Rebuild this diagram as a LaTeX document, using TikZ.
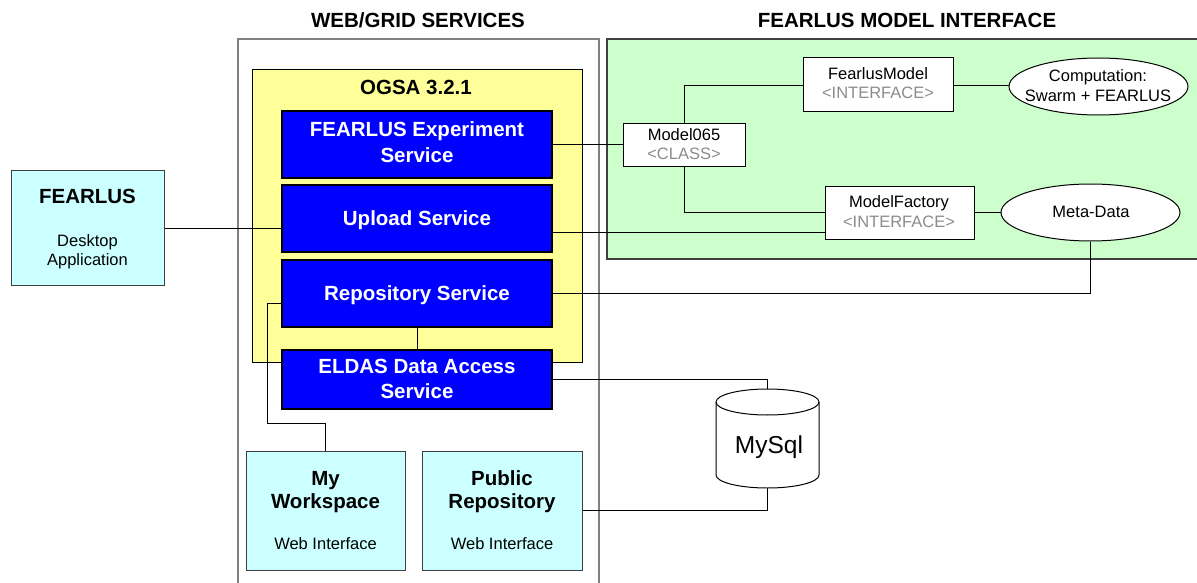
\documentclass[tikz,border=0pt]{standalone}
\usepackage{fontspec}
\setmainfont{Liberation Sans}
\usetikzlibrary{shapes.geometric}
\definecolor{svcblue}{HTML}{0000FF}
\definecolor{appcyan}{HTML}{CCFFFF}
\definecolor{ogsayellow}{HTML}{FFFF99}
\definecolor{modelgreen}{HTML}{CCFFCC}
\definecolor{framegray}{HTML}{808080}
\definecolor{boxgray}{HTML}{404040}
\definecolor{textgray}{HTML}{8C8C8C}
\begin{document}
\begin{tikzpicture}[x=1pt,y=-1pt,
  box/.style={draw, line width=1pt, inner sep=0pt, anchor=center},
  bluebox/.style={box, fill=svcblue, draw=black, line width=1.2pt, minimum width=270pt},
  cyanbox/.style={box, fill=appcyan, draw=boxgray},
  whitebox/.style={box, fill=white, draw=black},
  oval/.style={ellipse, draw=black, fill=white, line width=1pt, inner sep=0pt},
  big/.style={font=\fontsize{20.5}{24}\selectfont\bfseries},
  small/.style={font=\fontsize{16.5}{20}\selectfont},
  txt/.style={anchor=base, inner sep=0pt},
  wt/.style={txt, big, text=white},
  gt/.style={txt, small, text=textgray},
  conn/.style={draw=black, line width=0.9pt},
]
\useasboundingbox (0,0) rectangle (1197,583);

% frames
\node[draw=framegray, line width=1.6pt, inner sep=0pt, minimum width=361pt, minimum height=600pt] (webgrid) at (418.5,339) {};
\node[txt, big] (webgridT) at (418,28) {WEB/GRID SERVICES};
\node[fill=modelgreen, draw=boxgray, line width=1.2pt, inner sep=0pt, minimum width=603pt, minimum height=220pt] (modelif) at (908.5,149) {};
\node[txt, big] (modelifT) at (907,28) {FEARLUS MODEL INTERFACE};

% desktop application
\node[cyanbox, minimum width=153pt, minimum height=114pt] (fearlus) at (87.5,228) {};
\node[txt, big] (fearlusT) at (87.5,203) {FEARLUS};
\node[txt, small] (fearlusD) at (87.5,246) {Desktop};
\node[txt, small] (fearlusA) at (87.5,265) {Application};

% OGSA
\node[box, fill=ogsayellow, draw=black, line width=0.8pt, minimum width=330pt, minimum height=293pt] (ogsa) at (417,215.5) {};
\node[txt, big] (ogsaT) at (416,95) {OGSA 3.2.1};

\node[bluebox, minimum height=67pt] (experiment) at (417,144.5) {};
\node[wt] (experimentT1) at (417,137) {FEARLUS Experiment};
\node[wt] (experimentT2) at (417,163) {Service};
\node[bluebox, minimum height=67pt] (upload) at (417,218.5) {};
\node[wt] (uploadT) at (417,225) {Upload Service};
\node[bluebox, minimum height=67pt] (repository) at (417,293.5) {};
\node[wt] (repositoryT) at (417,300) {Repository Service};
\node[bluebox, minimum height=59pt] (eldas) at (417,379.5) {};
\node[wt] (eldasT1) at (417,373) {ELDAS Data Access};
\node[wt] (eldasT2) at (417,398) {Service};

% web interfaces
\node[cyanbox, minimum width=159pt, minimum height=119pt] (workspace) at (325.5,510.5) {};
\node[txt, big] (workspaceT1) at (325.5,485) {My};
\node[txt, big] (workspaceT2) at (325.5,508) {Workspace};
\node[txt, small] (workspaceT3) at (325.5,549) {Web Interface};
\node[cyanbox, minimum width=160pt, minimum height=119pt] (public) at (502,510.5) {};
\node[txt, big] (publicT1) at (502,485) {Public};
\node[txt, big] (publicT2) at (502,508) {Repository};
\node[txt, small] (publicT3) at (502,549) {Web Interface};

% MySql cylinder
\node[inner sep=0pt, minimum width=103pt, minimum height=99pt] (mysql) at (767.5,438.5) {};
\draw[line width=1pt, fill=white] (716,402) -- (716,475)
  arc[start angle=180, end angle=360, x radius=51.5pt, y radius=13pt] -- (819,402)
  arc[start angle=0, end angle=180, x radius=51.5pt, y radius=13pt] -- cycle;
\draw[line width=1pt] (716,402) arc[start angle=180, end angle=360, x radius=51.5pt, y radius=13pt];
\node[txt, font=\fontsize{24.5}{28}\selectfont] (mysqlT) at (769,453) {MySql};

% model interface
\node[whitebox, minimum width=122pt, minimum height=43pt] (model065) at (684,145.5) {};
\node[txt, small] (model065T1) at (684,141) {Model065};
\node[gt] (model065T2) at (684,160) {<CLASS>};
\node[whitebox, minimum width=150pt, minimum height=54pt] (fearlusmodel) at (878,85) {};
\node[txt, small] (fearlusmodelT1) at (878,80) {FearlusModel};
\node[gt] (fearlusmodelT2) at (878,99) {<INTERFACE>};
\node[whitebox, minimum width=149pt, minimum height=53pt] (factory) at (899.5,212.5) {};
\node[txt, small] (factoryT1) at (899,207) {ModelFactory};
\node[gt] (factoryT2) at (899,227) {<INTERFACE>};
\node[oval, minimum width=179pt, minimum height=57pt] (computation) at (1098.5,86.5) {};
\node[txt, small] (computationT1) at (1098,82) {Computation:};
\node[txt, small] (computationT2) at (1098,102) {Swarm + FEARLUS};
\node[oval, minimum width=179pt, minimum height=57pt] (metadata) at (1090.5,212.5) {};
\node[txt, small] (metadataT) at (1091,217) {Meta-Data};

% connectors
\coordinate (bend) at (267,423);
\draw[conn] (fearlus.east) -- (fearlus.east -| upload.west);
\draw[conn] (experiment.east) -- (experiment.east -| model065.west);
\draw[conn] (model065.north) |- (fearlusmodel.west);
\draw[conn] (model065.south) |- (factory.west);
\draw[conn] ([yshift=-13.5pt]upload.east) -- ([yshift=-13.5pt]upload.east -| factory.west);
\draw[conn] (fearlusmodel.east) -- (fearlusmodel.east -| computation.west);
\draw[conn] (factory.east) -- (metadata.west);
\draw[conn] (metadata.south) |- (repository.east);
\draw[conn] (repository.south) -- (eldas.north);
\draw[conn] ([yshift=-9.5pt]repository.west) -| (bend) -| (workspace.north);
\draw[conn] (eldas.east) -| (mysql.north);
\draw[conn] (public.east) -| (mysql.south);
\end{tikzpicture}
\end{document}
